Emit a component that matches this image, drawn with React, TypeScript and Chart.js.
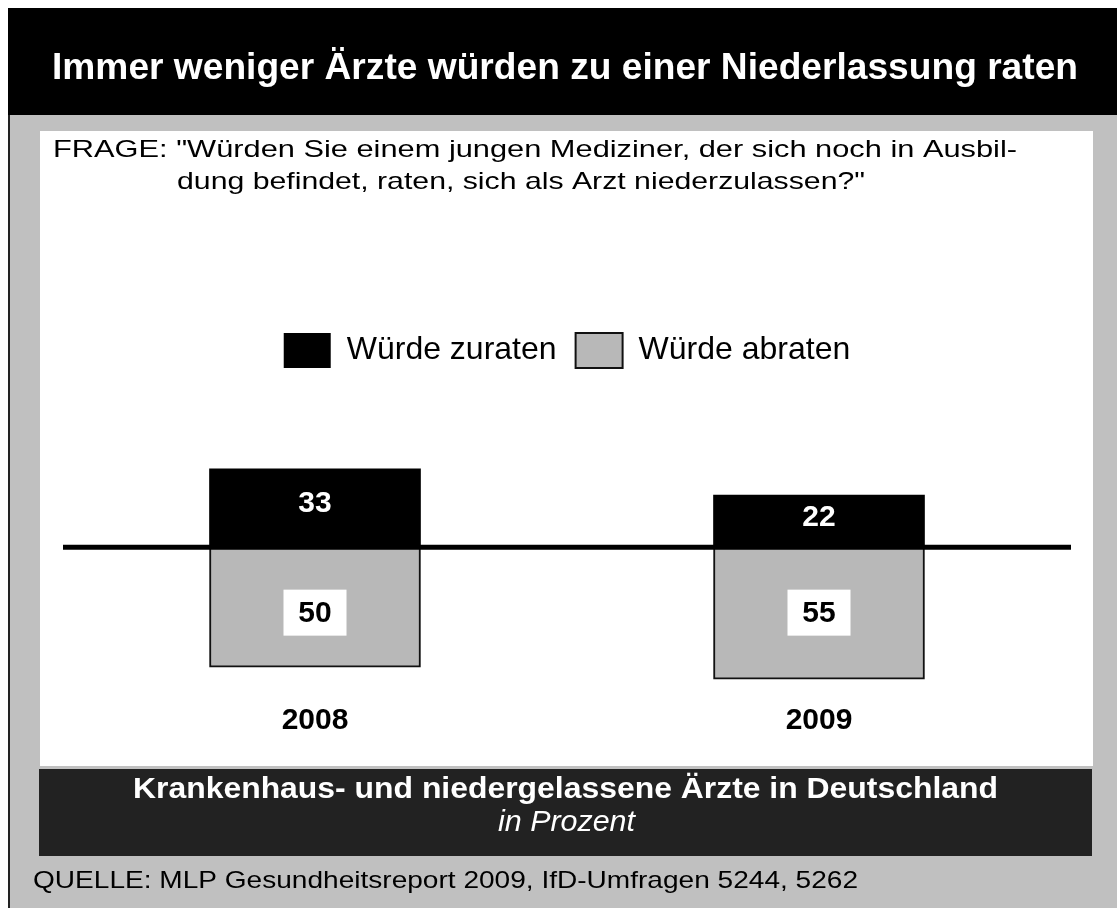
import React, { useEffect, useRef } from 'react';
import { Chart, registerables } from 'chart.js';

Chart.register(...registerables);

const FONT = '"Liberation Sans", Arial, Helvetica, sans-serif';

const titleText = 'Immer weniger Ärzte würden zu einer Niederlassung raten';
const questionLines = [
  'FRAGE: "Würden Sie einem jungen Mediziner, der sich noch in Ausbil-',
  'dung befindet, raten, sich als Arzt niederzulassen?"',
];
const populationLine = 'Krankenhaus- und niedergelassene Ärzte in Deutschland';
const unitLine = 'in Prozent';
const sourceLine = 'QUELLE: MLP Gesundheitsreport 2009, IfD-Umfragen 5244, 5262';

const categories = ['2008', '2009'];
const seriesLabels = ['Würde zuraten', 'Würde abraten'];
const zuratenValues = [33, 22];
const abratenValues = [50, 55];

function drawFit(ctx: CanvasRenderingContext2D, text: string, x: number, y: number, width: number, font: string, color: string) {
  ctx.save();
  ctx.font = font;
  ctx.fillStyle = color;
  ctx.textAlign = 'left';
  ctx.textBaseline = 'alphabetic';
  const w = ctx.measureText(text).width;
  const s = width / w;
  ctx.translate(x, y);
  ctx.scale(s, 1);
  ctx.fillText(text, 0, 0);
  ctx.restore();
}

const framePlugin = {
  id: 'frame',
  beforeDraw(chart: any) {
    const ctx = chart.ctx as CanvasRenderingContext2D;
    ctx.save();
    ctx.fillStyle = '#ffffff';
    ctx.fillRect(0, 0, chart.width, chart.height);
    ctx.fillStyle = '#000000';
    ctx.fillRect(8, 8, 1109, 107);
    ctx.fillStyle = '#c0c0c0';
    ctx.fillRect(8, 115, 1109, 793);
    ctx.fillStyle = '#222222';
    ctx.fillRect(8, 115, 2, 793);
    ctx.fillStyle = '#ffffff';
    ctx.fillRect(40, 131, 1053, 635);
    ctx.fillStyle = '#222222';
    ctx.fillRect(39, 769, 1053, 87);

    drawFit(ctx, titleText, 52, 79, 1026, `bold 37px ${FONT}`, '#ffffff');
    drawFit(ctx, questionLines[0], 53, 157, 964, `24px ${FONT}`, '#000000');
    drawFit(ctx, questionLines[1], 177, 189, 688, `24px ${FONT}`, '#000000');
    drawFit(ctx, populationLine, 133, 798, 865, `bold 30px ${FONT}`, '#ffffff');
    drawFit(ctx, unitLine, 498, 831, 137, `italic 30px ${FONT}`, '#ffffff');
    drawFit(ctx, sourceLine, 33, 888, 825, `24px ${FONT}`, '#000000');
    ctx.restore();
  },
};

const labelPlugin = {
  id: 'valueLabels',
  afterDatasetsDraw(chart: any) {
    const ctx = chart.ctx as CanvasRenderingContext2D;
    const area = chart.chartArea;
    const zeroY = chart.scales.y.getPixelForValue(0);
    ctx.save();
    ctx.strokeStyle = '#000000';
    ctx.lineWidth = 5;
    ctx.beginPath();
    ctx.moveTo(area.left, zeroY - 0.5);
    ctx.lineTo(area.right, zeroY - 0.5);
    ctx.stroke();

    ctx.font = `bold 30px ${FONT}`;
    ctx.textAlign = 'center';
    ctx.textBaseline = 'middle';

    const m0 = chart.getDatasetMeta(0);
    m0.data.forEach((bar: any, i: number) => {
      ctx.fillStyle = '#ffffff';
      ctx.fillText(String(zuratenValues[i]), bar.x, (bar.y + bar.base) / 2 - 4);
    });
    const m1 = chart.getDatasetMeta(1);
    m1.data.forEach((bar: any, i: number) => {
      const cy = bar.base + 65;
      ctx.fillStyle = '#ffffff';
      ctx.fillRect(bar.x - 31.5, cy - 23, 63, 46);
      ctx.fillStyle = '#000000';
      ctx.fillText(String(abratenValues[i]), bar.x, cy + 1);
    });
    ctx.restore();
  },
};

export default function App() {
  const ref = useRef<HTMLCanvasElement | null>(null);
  useEffect(() => {
    if (!ref.current) return;
    const chart = new Chart(ref.current, {
      type: 'bar',
      data: {
        labels: categories,
        datasets: [
          {
            label: seriesLabels[0],
            data: zuratenValues,
            backgroundColor: '#000000',
            borderColor: '#000000',
            borderWidth: 0,
            stack: 's',
            barThickness: 211,
          },
          {
            label: seriesLabels[1],
            data: abratenValues.map((v) => -v),
            backgroundColor: '#b8b8b8',
            borderColor: '#111111',
            borderWidth: 2,
            stack: 's',
            barThickness: 211,
          },
        ],
      },
      options: {
        responsive: false,
        animation: false,
        events: [],
        layout: { padding: { left: 63, right: 46, top: 314, bottom: 157 } },
        plugins: {
          tooltip: { enabled: false },
          title: { display: false },
          legend: {
            display: true,
            position: 'top',
            align: 'center',
            labels: {
              boxWidth: 47,
              boxHeight: 35,
              padding: 19,
              color: '#000000',
              font: { family: FONT, size: 32 },
            },
          },
        },
        scales: {
          x: {
            stacked: true,
            grid: { display: false, drawTicks: false },
            border: { display: false },
            ticks: { color: '#000000', padding: 12, font: { family: FONT, size: 30, weight: 'bold' } },
          },
          y: {
            stacked: true,
            display: false,
            min: -60,
            max: 71,
          },
        },
      },
      plugins: [framePlugin, labelPlugin],
    });
    return () => chart.destroy();
  }, []);

  return (
    <div style={{ position: 'fixed', left: 0, top: 0, width: 1117, height: 908 }}>
      <canvas ref={ref} width={1117} height={908} style={{ display: 'block', width: 1117, height: 908 }} />
    </div>
  );
}
